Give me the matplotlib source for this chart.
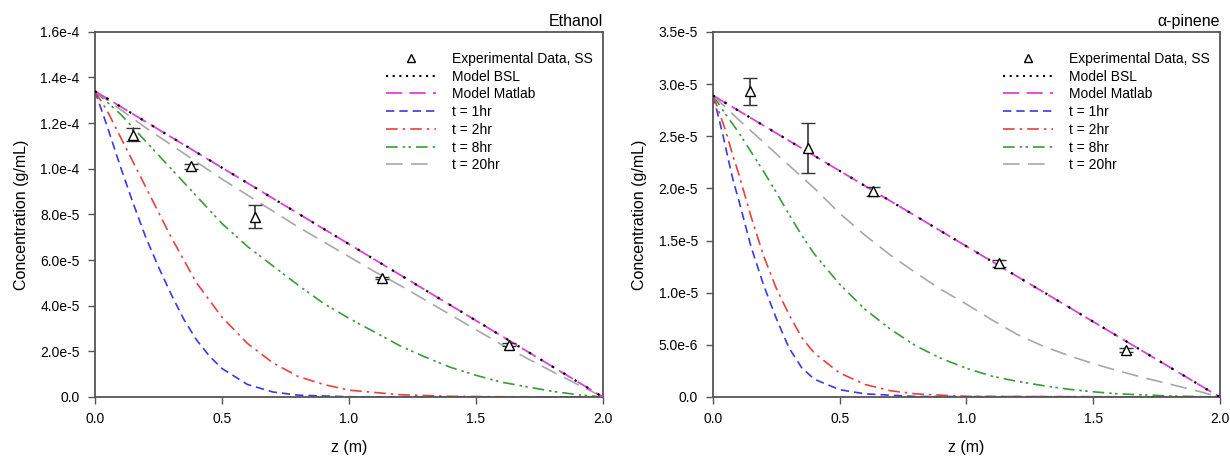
import numpy as np
import matplotlib
matplotlib.use('agg')
import matplotlib.pyplot as plt
from matplotlib.lines import Line2D
from matplotlib.ticker import FuncFormatter, MultipleLocator

plt.rcParams['font.family'] = ['Liberation Sans', 'DejaVu Sans']

# ---- Ethanol (values in units of 1e-5 g/mL) ----
ETH_SCALE = 1e-5
eth_model_z = [0.0, 2.0]
eth_model_c = [13.4, 0.0]

eth_z20 = np.linspace(0, 2, 21)
eth_c20 = [13.4, 12.6, 11.8, 11.05, 10.3, 9.55, 8.85, 8.15, 7.45, 6.8, 6.15,
           5.5, 4.9, 4.25, 3.6, 2.95, 2.3, 1.7, 1.12, 0.55, 0.0]
eth_z8 = np.linspace(0, 2, 21)
eth_c8 = [13.4, 12.4, 11.2, 10.0, 8.8, 7.6, 6.6, 5.75, 4.9, 4.1, 3.45,
          2.85, 2.25, 1.75, 1.3, 0.95, 0.65, 0.45, 0.25, 0.1, 0.0]
eth_z2 = [0, 0.05, 0.1, 0.15, 0.2, 0.25, 0.3, 0.35, 0.4, 0.5, 0.6, 0.7, 0.8,
          0.9, 1.0, 1.2, 1.4, 1.6, 2.0]
eth_c2 = [13.4, 12.5, 11.4, 10.3, 9.2, 8.1, 7.0, 6.0, 5.0, 3.5, 2.35, 1.5,
          0.9, 0.55, 0.3, 0.1, 0.03, 0.01, 0.0]
eth_z1 = [0, 0.05, 0.1, 0.15, 0.2, 0.25, 0.3, 0.35, 0.4, 0.45, 0.5, 0.6,
          0.7, 0.8, 1.0, 2.0]
eth_c1 = [13.4, 11.8, 10.1, 8.5, 7.0, 5.7, 4.5, 3.4, 2.5, 1.8, 1.25, 0.55,
          0.22, 0.08, 0.01, 0.0]

eth_exp_z = [0.15, 0.38, 0.63, 1.13, 1.63]
eth_exp_c = [11.5, 10.1, 7.9, 5.2, 2.3]
eth_exp_err = [0.3, 0.1, 0.5, 0.05, 0.05]

# ---- alpha-pinene (values in units of 1e-6 g/mL) ----
PIN_SCALE = 1e-6
pin_model_z = [0.0, 2.0]
pin_model_c = [28.9, 0.0]

pin_z20 = np.linspace(0, 2, 21)
pin_c20 = [28.9, 26.6, 24.4, 22.2, 20.0, 17.6, 15.5, 13.6, 11.9, 10.3, 8.9,
           7.4, 6.0, 4.9, 4.0, 3.2, 2.5, 1.85, 1.25, 0.65, 0.0]
pin_z8 = [0, 0.05, 0.1, 0.15, 0.2, 0.25, 0.3, 0.35, 0.4, 0.5, 0.6, 0.7, 0.8,
          0.9, 1.0, 1.1, 1.2, 1.3, 1.4, 1.5, 1.6, 1.8, 2.0]
pin_c8 = [28.9, 27.1, 25.4, 23.5, 21.6, 19.6, 17.5, 15.5, 13.7, 10.8, 8.4,
          6.5, 4.9, 3.7, 2.75, 2.0, 1.5, 1.1, 0.75, 0.5, 0.3, 0.1, 0.0]
pin_z2 = [0, 0.02, 0.05, 0.08, 0.1, 0.15, 0.2, 0.25, 0.3, 0.35, 0.4, 0.5,
          0.6, 0.7, 0.8, 1.0, 2.0]
pin_c2 = [28.9, 27.6, 25.5, 23.0, 21.5, 17.3, 13.5, 10.4, 7.9, 5.7, 4.2,
          2.3, 1.2, 0.6, 0.3, 0.05, 0.0]
pin_z1 = [0, 0.02, 0.04, 0.06, 0.08, 0.1, 0.15, 0.2, 0.25, 0.3, 0.35, 0.4,
          0.5, 0.6, 0.8, 2.0]
pin_c1 = [28.9, 27.0, 25.0, 22.8, 20.7, 19.0, 14.4, 10.7, 7.5, 4.7, 2.8,
          1.7, 0.7, 0.3, 0.05, 0.0]

pin_exp_z = [0.146, 0.375, 0.63, 1.13, 1.63]
pin_exp_c = [29.3, 23.9, 19.7, 12.8, 4.5]
pin_exp_err = [1.3, 2.4, 0.4, 0.3, 0.2]

LINE_BLUE = '#3a3ae6'
LINE_RED = '#e8413c'
LINE_GREEN = '#3a9a3a'
LINE_GRAY = '#a8a8a8'
LINE_MAGENTA = '#dd3fdd'

CURVE_STYLES = [('t = 1hr', LINE_BLUE, (0, (5, 3))),
                ('t = 2hr', LINE_RED, (0, (7, 3, 1.5, 3))),
                ('t = 8hr', LINE_GREEN, (0, (7, 3, 1.5, 2, 1.5, 3))),
                ('t = 20hr', LINE_GRAY, (0, (10, 5)))]


def sci_label(v, pos):
    if abs(v) < 1e-12:
        return '0.0'
    exp = int(np.floor(np.log10(abs(v)) + 1e-9))
    return '{:.1f}e{}'.format(v / 10 ** exp, exp)


def draw_panel(ax, scale, model_z, model_c, curves, exp_z, exp_c, exp_err,
               ymax, ystep, title):
    ax.errorbar(exp_z, np.array(exp_c) * scale,
                yerr=np.array(exp_err) * scale, fmt='^', ms=7, mfc='white',
                mec='black', mew=1.0, ecolor='#333333', elinewidth=1.2,
                capsize=5, capthick=1.2, zorder=5)
    mc = np.array(model_c) * scale
    ax.plot(model_z, mc, color='black', lw=1.6, linestyle=(0, (1, 5)),
            zorder=4)
    ax.plot(model_z, mc, color=LINE_MAGENTA, lw=1.3, linestyle=(0, (9, 3)),
            zorder=3)
    for (z, c), (lab, col, ls) in zip(curves, CURVE_STYLES):
        ax.plot(z, np.array(c) * scale, color=col, lw=1.2, linestyle=ls,
                zorder=2)

    ax.set_xlim(0, 2.0)
    ax.set_ylim(0, ymax)
    ax.xaxis.set_major_locator(MultipleLocator(0.5))
    ax.yaxis.set_major_locator(MultipleLocator(ystep))
    ax.xaxis.set_major_formatter(FuncFormatter(lambda v, p: '{:.1f}'.format(v)))
    ax.yaxis.set_major_formatter(FuncFormatter(sci_label))
    ax.tick_params(direction='out', length=5, width=1.0, color='#555555',
                   labelsize=10, pad=6)
    for sp in ax.spines.values():
        sp.set_color('#555555')
        sp.set_linewidth(1.3)
    ax.set_xlabel('z (m)', fontsize=11.5, labelpad=10)
    ax.set_ylabel('Concentration (g/mL)', fontsize=11.5, labelpad=8)
    ax.set_title(title, loc='right', fontsize=11.5, pad=4)

    # legend proxies (marker only for the data, denser dots for BSL)
    handles = [Line2D([], [], ls='none', marker='^', ms=6, mfc='white',
                      mec='black', mew=1.0),
               Line2D([], [], color='black', lw=1.5, ls=(0, (1, 2.2))),
               Line2D([], [], color=LINE_MAGENTA, lw=1.3, ls=(0, (9, 4)))]
    handles += [Line2D([], [], color=col, lw=1.2, ls=ls)
                for lab, col, ls in CURVE_STYLES]
    labels = ['Experimental Data, SS', 'Model BSL', 'Model Matlab']
    labels += [lab for lab, col, ls in CURVE_STYLES]
    ax.legend(handles, labels, loc='upper right', bbox_to_anchor=(1.0, 0.972),
              frameon=False, fontsize=10, handlelength=3.6,
              labelspacing=0.27, handletextpad=1.2, borderaxespad=0.3)


fig = plt.figure(figsize=(12.3, 4.57), dpi=100)
ax1 = fig.add_axes([0.0772, 0.1313, 0.413, 0.799])
ax2 = fig.add_axes([0.5797, 0.1313, 0.412, 0.799])

draw_panel(ax1, ETH_SCALE, eth_model_z, eth_model_c,
           [(eth_z1, eth_c1), (eth_z2, eth_c2), (eth_z8, eth_c8),
            (eth_z20, eth_c20)],
           eth_exp_z, eth_exp_c, eth_exp_err, 1.6e-4, 2e-5, 'Ethanol')
draw_panel(ax2, PIN_SCALE, pin_model_z, pin_model_c,
           [(pin_z1, pin_c1), (pin_z2, pin_c2), (pin_z8, pin_c8),
            (pin_z20, pin_c20)],
           pin_exp_z, pin_exp_c, pin_exp_err, 3.5e-5, 5e-6, '\u03b1-pinene')

fig.savefig('out.png', dpi=100)
